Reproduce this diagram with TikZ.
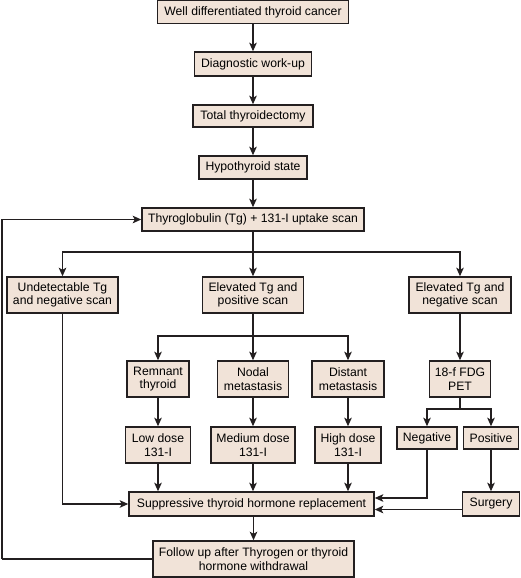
\documentclass[tikz,border=0pt]{standalone}
\usepackage{fontspec}
\setmainfont{Liberation Sans}
\usetikzlibrary{arrows.meta}
\definecolor{boxfill}{HTML}{F1E3D8}
\definecolor{boxline}{HTML}{231F20}

\begin{document}
\begin{tikzpicture}[x=1pt,y=-1pt,
    box/.style={draw=boxline,fill=boxfill,line width=1.5pt,inner sep=0pt,align=center,
      minimum height=23pt,font=\fontsize{12.2}{13.5}\selectfont},
    tall/.style={box,minimum height=36pt},
    wire/.style={draw=boxline,line width=1.5pt},
    flow/.style={wire,-{Stealth[length=8.5pt,width=7.5pt,inset=2pt]}}]
  \useasboundingbox (0,0) rectangle (521,578);
  \node[box,minimum width=191pt] (wdtc) at (253,12) {Well differentiated thyroid cancer};
  \node[box,minimum width=117pt,minimum height=24pt] (diag) at (253,64) {Diagnostic work-up};
  \node[box,minimum width=120pt,minimum height=22pt] (thyrect) at (253,116) {Total thyroidectomy};
  \node[box,minimum width=108pt] (hypo) at (253,167.5) {Hypothyroid state};
  \node[box,minimum width=222pt] (tgscan) at (253,219.5) {Thyroglobulin (Tg) + 131-I uptake scan};
  \node[tall,minimum width=111pt] (undet) at (62.5,295) {Undetectable Tg\\and negative scan};
  \node[tall,minimum width=101pt] (elpos) at (253,295) {Elevated Tg and\\positive scan};
  \node[tall,minimum width=102pt] (elneg) at (460,295) {Elevated Tg and\\negative scan};
  \node[tall,minimum width=62pt] (remnant) at (158,379) {Remnant\\thyroid};
  \node[tall,minimum width=71pt] (nodal) at (253,379) {Nodal\\metastasis};
  \node[tall,minimum width=72pt] (distant) at (348,379) {Distant\\metastasis};
  \node[tall,minimum width=61pt] (pet) at (460,379) {18-f FDG\\PET};
  \node[tall,minimum width=65pt] (lowdose) at (158,445) {Low dose\\131-I};
  \node[tall,minimum width=84pt] (meddose) at (253,445) {Medium dose\\131-I};
  \node[tall,minimum width=66pt] (highdose) at (348,445) {High dose\\131-I};
  \node[box,minimum width=60pt,minimum height=22pt] (neg) at (427,438) {Negative};
  \node[box,minimum width=55pt,minimum height=22pt] (pos) at (491,438) {Positive};
  \node[box,minimum width=245pt,minimum height=24pt] (supp) at (251.5,504) {Suppressive thyroid hormone replacement};
  \node[box,minimum width=57pt,minimum height=24pt] (surgery) at (491,504) {Surgery};
  \node[tall,minimum width=201pt] (follow) at (253.5,559) {Follow up after Thyrogen or thyroid\\hormone withdrawal};
  \coordinate (split1) at (253,252);
  \coordinate (split2) at (253,336);
  \coordinate (split3) at (460,409);
  \coordinate (loop) at (2,559);
  \draw[flow] (wdtc) -- (diag);
  \draw[flow] (diag) -- (thyrect);
  \draw[flow] (thyrect) -- (hypo);
  \draw[flow] (hypo) -- (tgscan);
  \draw[flow] (tgscan) -- (elpos);
  \draw[flow] (split1) -| (undet);
  \draw[flow] (split1) -| (elneg);
  \draw[flow] (elpos) -- (nodal);
  \draw[flow] (split2) -| (remnant);
  \draw[flow] (split2) -| (distant);
  \draw[flow] (remnant) -- (lowdose);
  \draw[flow] (nodal) -- (meddose);
  \draw[flow] (distant) -- (highdose);
  \draw[flow] (lowdose) -- (lowdose |- supp.north);
  \draw[flow] (meddose) -- (meddose |- supp.north);
  \draw[flow] (highdose) -- (highdose |- supp.north);
  \draw[flow] (elneg) -- (pet);
  \draw[wire] (pet) -- (split3);
  \draw[flow] (split3) -| (neg);
  \draw[flow] (split3) -| (pos);
  \draw[flow] (pos) -- (surgery);
  \draw[flow] (undet) |- (supp);
  \draw[flow] (neg) |- ([yshift=6pt]supp.east);
  \draw[flow] ([yshift=-5.5pt]surgery.west) -- ([yshift=-5.5pt]supp.east);
  \draw[flow] (follow.north |- supp.south) -- (follow);
  \draw[wire] (follow) -- (loop);
  \draw[flow] (loop) |- (tgscan);
\end{tikzpicture}
\end{document}
